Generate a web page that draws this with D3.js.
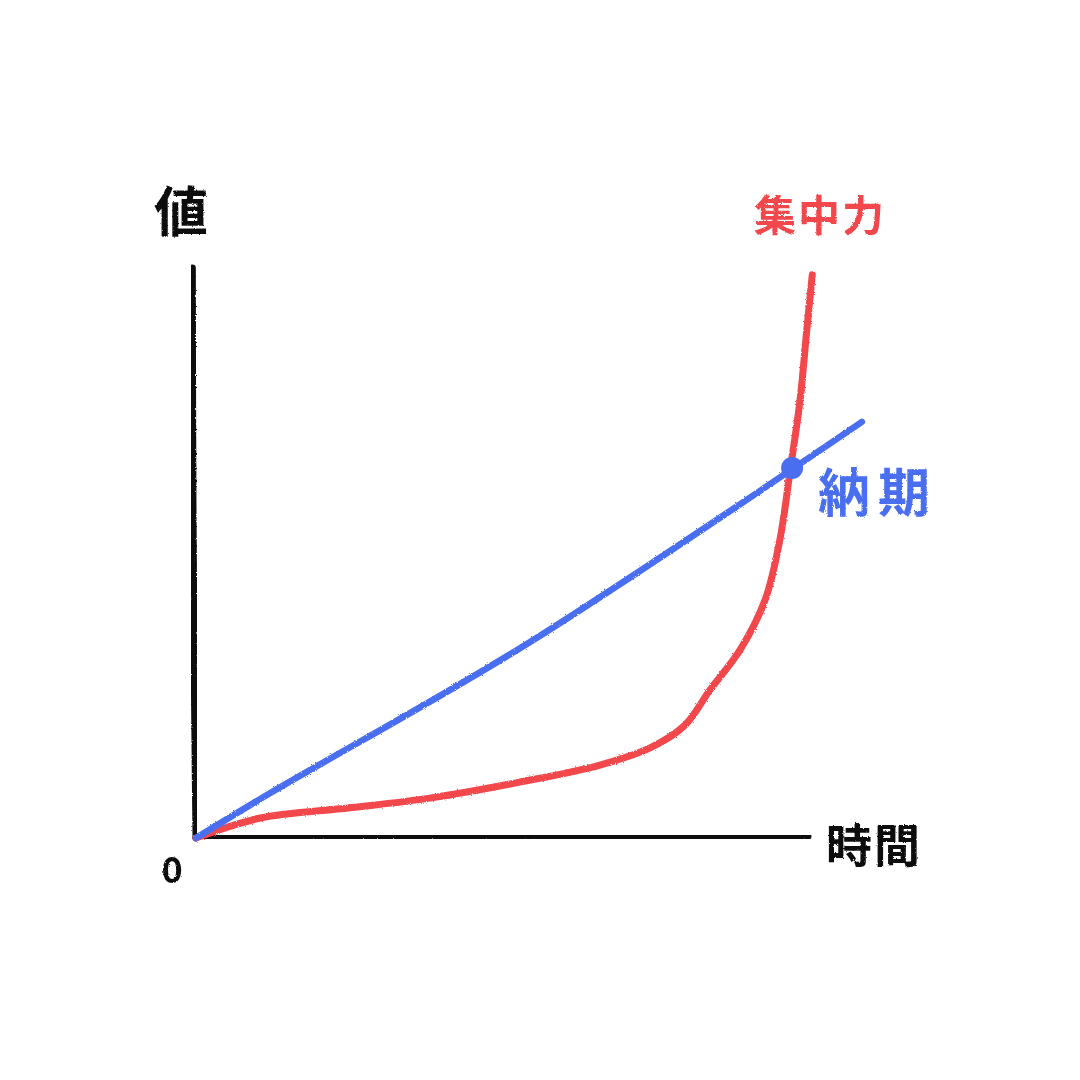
<!DOCTYPE html>
<html>
<head>
<meta charset="utf-8">
<script src="https://cdn.jsdelivr.net/npm/d3@7"></script>
<style>
  body { margin: 0; background: #fff; }
  text { font-family: "Noto Sans CJK JP", sans-serif; }
</style>
</head>
<body>
<svg id="chart" width="1080" height="1080"></svg>
<script>
// data (x = time, y = value, both 0..10)
let focusX = [0, 1.05, 2.52, 3.82, 5.29, 6.60, 7.42, 7.99, 8.40, 8.89, 9.30, 9.54, 9.71, 9.87, 9.98, 10.07];
let focusY = [0, 0.35, 0.53, 0.70, 0.98, 1.28, 1.58, 1.98, 2.60, 3.30, 4.18, 5.23, 6.46, 7.68, 8.91, 9.88];
let deadlineX = [0, 1.2, 5.4, 10.88];
let deadlineY = [0, 0.78, 3.4, 7.30];
let crossPoint = [9.74, 6.49];
let yAxisX = [-0.06, -0.05, -0.02, 0];
let yAxisY = [10, 6, 2, 0];
let xAxisX = [0, 3, 7, 10];
let xAxisY = [0, 0.04, 0.02, 0.03];

let red = "#f2464c";
let blue = "#4a6ef0";
let ink = "#111";

let svg = d3.select("#chart");

// crayon-ish texture
let defs = svg.append("defs");
let f = defs.append("filter").attr("id", "rough");
f.append("feTurbulence").attr("type", "fractalNoise").attr("baseFrequency", 0.9).attr("numOctaves", 2).attr("result", "n");
f.append("feDisplacementMap").attr("in", "SourceGraphic").attr("in2", "n").attr("scale", 2.5);

let x = d3.scaleLinear().domain([0, 10]).range([196, 808]);
let y = d3.scaleLinear().domain([0, 10]).range([838, 268]);

let line = d3.line()
  .x(d => x(d[0]))
  .y(d => y(d[1]))
  .curve(d3.curveCatmullRom);

function drawPath(xs, ys, color, w) {
  svg.append("path")
    .datum(xs.map((v, i) => [v, ys[i]]))
    .attr("d", line)
    .attr("fill", "none")
    .attr("stroke", color)
    .attr("stroke-width", w)
    .attr("stroke-linecap", "round")
    .attr("stroke-linejoin", "round")
    .attr("filter", "url(#rough)");
}

// axes
drawPath(yAxisX, yAxisY, ink, 7);
drawPath(xAxisX, xAxisY, ink, 7);

// series
drawPath(focusX, focusY, red, 7);
drawPath(deadlineX, deadlineY, blue, 6.5);

svg.append("circle")
  .attr("cx", x(crossPoint[0]))
  .attr("cy", y(crossPoint[1]))
  .attr("r", 11)
  .attr("fill", blue);

// labels
function label(txt, px, py, size, color, spacing) {
  svg.append("text")
    .attr("x", px)
    .attr("y", py)
    .text(txt)
    .style("font-size", size + "px")
    .style("font-weight", "bold")
    .style("letter-spacing", (spacing || 0) + "px")
    .style("fill", color)
    .style("text-anchor", "middle")
    .attr("dominant-baseline", "central")
    .attr("filter", "url(#rough)");
}

label("値", 181, 208, 54, ink);
label("0", 172, 867, 36, ink);
label("時間", 874, 842, 46, ink, 2);
label("集中力", 820, 212, 42, red, 2);
label("納期", 878, 489, 52, blue, 8);
</script>
</body>
</html>
